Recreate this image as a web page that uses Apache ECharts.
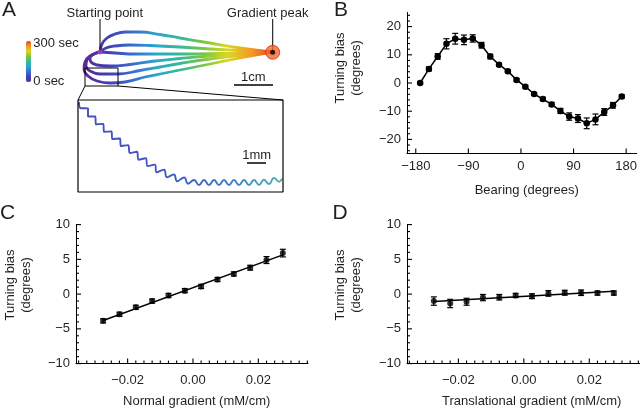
<!DOCTYPE html>
<html><head><meta charset="utf-8">
<script src="https://cdn.jsdelivr.net/npm/echarts@6/dist/echarts.min.js"></script>
<style>html,body{margin:0;padding:0;background:#fff}#c{width:640px;height:408px}</style>
</head><body><div id="c"></div>
<script>
// ---------- Panel B : turning bias vs bearing ----------
const bearing = [-172.5,-157.5,-142.5,-127.5,-112.5,-97.5,-82.5,-67.5,-52.5,-37.5,-22.5,-7.5,7.5,22.5,37.5,52.5,67.5,82.5,97.5,112.5,127.5,142.5,157.5,172.5];
const turnB = [0,5.0,9.4,13.9,15.7,15.3,15.8,13.4,9.4,6.5,4.2,1.1,-1.3,-3.9,-5.7,-7.6,-9.9,-11.9,-12.6,-14.3,-12.9,-10.3,-7.9,-4.8];
const errB = [0.4,0.7,1.0,1.8,1.9,1.7,1.3,1.0,0.8,0.6,0.5,0.5,0.5,0.5,0.6,0.7,0.9,1.3,1.4,1.9,1.9,1.2,1.0,0.6];
const bearingTicks = [-180,-90,0,90,180];
const turnTicksB = [-20,-10,0,10,20];
const turnMinorB = [-24,-22,-18,-16,-14,-12,-8,-6,-4,-2,2,4,6,8,12,14,16,18,22,24];

// ---------- Panel C : normal gradient ----------
const gradC = [-0.0275,-0.0225,-0.0175,-0.0125,-0.0075,-0.0025,0.0025,0.0075,0.0125,0.0175,0.0225,0.0275];
const turnC = [-3.85,-2.9,-1.9,-1.0,-0.2,0.5,1.1,2.1,2.9,3.8,4.9,5.9];
const errC = [0.3,0.3,0.3,0.3,0.3,0.3,0.3,0.3,0.3,0.35,0.5,0.55];
const fitC = [[-0.0275,-3.8],[0.0275,5.65]];

// ---------- Panel D : translational gradient ----------
const gradD = [-0.0275,-0.0225,-0.0175,-0.0125,-0.0075,-0.0025,0.0025,0.0075,0.0125,0.0175,0.0225,0.0275];
const turnD = [-1.0,-1.35,-1.1,-0.5,-0.45,-0.2,-0.3,0.1,0.2,0.2,0.15,0.15];
const errD = [0.6,0.6,0.5,0.45,0.4,0.3,0.35,0.4,0.35,0.4,0.3,0.3];
const fitD = [[-0.0275,-1.05],[0.0275,0.4]];

const gradTicks = [-0.02,0,0.02];
const gradMinor = [-0.035,-0.0325,-0.03,-0.0275,-0.025,-0.0225,-0.0175,-0.015,-0.0125,-0.01,-0.0075,-0.005,-0.0025,0.0025,0.005,0.0075,0.01,0.0125,0.015,0.0175,0.0225,0.025,0.0275,0.03,0.0325,0.035];
const turnTicksCD = [-10,-5,0,5,10];
const turnMinorCD = [-9,-8,-7,-6,-4,-3,-2,-1,1,2,3,4,6,7,8,9];

// ---------- Panel A : trajectories (panel units) ----------
const traj1 = [[100,52],[102,44],[107,38],[115,34],[125,32],[140,32],[160,34.5],[180,38],[210,43],[240,48],[272,52]];
const traj2 = [[100,52],[106,48],[115,46],[130,45],[150,45.5],[180,47],[210,49],[240,50.5],[272,52]];
const traj3 = [[100,52],[115,53],[135,54],[160,54],[190,54],[220,53.5],[250,53],[272,52]];
const traj4 = [[100,52],[94,54],[90,58],[91,62],[97,65],[110,66],[130,64.5],[155,61],[180,58.5],[210,56],[245,54],[272,52]];
const traj5 = [[100,52],[92,55],[87,60],[86,66],[90,71],[100,74],[118,74],[140,70.5],[160,67],[180,63.5],[210,59],[245,55],[272,52]];
const traj6 = [[100,52],[90,56],[85,62],[84,69],[88,76],[97,81],[110,83],[125,82],[145,77],[165,73],[180,70],[210,64],[240,58],[272,52]];
const wiggle = [[79,102],[80.8,108.2],[88.0,108.3],[88.0,116.5],[95.4,116.5],[95.8,124.3],[103.4,124.0],[103.9,131.8],[111.6,131.5],[112.2,139.0],[120.1,138.5],[120.7,146.0],[128.1,145.1],[129.9,153.0],[136.9,151.8],[138.6,159.7],[145.7,158.3],[147.6,166.1],[154.8,164.6],[156.7,172.3],[163.9,169.8],[167.0,177.2],[173.8,174.5],[177.2,181.2],[184.1,177.5],[188.1,183.7],[194,180],[199,185],[204,180],[209,185],[214,180],[219,185],[224,180],[229,185],[234,180],[239,185],[244,180],[249,185],[254,180],[259,184.8],[264,179.8],[269,184],[274,178],[279,181.7],[282,178.5]];
const startPoint = [[100,52]];
const peakPoint = [[272.7,52.3]];
const leaderStart = [[100,19],[100,52]];
const leaderPeak = [[272.7,19],[272.7,52]];
const zoomBox = [[85,68],[118,68],[118,86],[85,86],[85,68]];
const connectLeft = [[85,86],[78,100]];
const connectRight = [[118,86],[283,100]];
const insetBox = [[78,100],[283,100],[283,192],[78,192],[78,100]];
const scaleCm = [[234,85],[273,85]];
const scaleMm = [[247,163],[266,163]];
const timeColors = ['#5a2a96','#4040b8','#3a6ccc','#2aa6cc','#35b89a','#7cc644','#d8d822','#f49a22','#e83a1e'];

const FONT = "'Liberation Sans', Arial, Helvetica, sans-serif";
const INK = '#231f20';
const minus = v => v < 0 ? '\u2212' + Math.abs(v) : String(v);
const minus2 = v => (v < 0 ? '\u2212' : '') + Math.abs(v).toFixed(2);

function zip(xs, ys){ return xs.map((x,i)=>[x, ys[i]]); }
function errData(xs, ys, es){ return xs.map((x,i)=>[x, ys[i]-es[i], ys[i]+es[i]]); }
function errRender(params, api){
  const x = api.value(0), lo = api.value(1), hi = api.value(2);
  const p1 = api.coord([x, hi]), p2 = api.coord([x, lo]);
  const w = 3, st = {stroke:'#000', lineWidth:1.2};
  return {type:'group', children:[
    {type:'line', shape:{x1:p1[0],y1:p1[1],x2:p2[0],y2:p2[1]}, style:st},
    {type:'line', shape:{x1:p1[0]-w,y1:p1[1],x2:p1[0]+w,y2:p1[1]}, style:st},
    {type:'line', shape:{x1:p2[0]-w,y1:p2[1],x2:p2[0]+w,y2:p2[1]}, style:st}
  ]};
}

const chart = echarts.init(document.getElementById('c'), null, {renderer:'canvas'});
const lblStyle = {color: INK, fontFamily: FONT, fontSize: 13};
const axLine = {show:true, onZero:false, lineStyle:{color:'#000', width:1}};

function mainX(grid, min, max, ticks, fmt, margin){
  return {type:'value', gridIndex:grid, min:min, max:max, position:'bottom',
    axisLine:axLine, splitLine:{show:false}, axisTick:{show:false},
    axisLabel:Object.assign({customValues:ticks, formatter:fmt, margin:margin}, lblStyle)};
}
function mainY(grid, min, max, ticks){
  return {type:'value', gridIndex:grid, min:min, max:max, position:'left', axisLine:axLine, splitLine:{show:false},
    axisTick:{show:false},
    axisLabel:Object.assign({customValues:ticks, formatter:minus, margin:6}, lblStyle)};
}
// inward tick marks: thin rect symbols placed on the axis through the scales
function ticksSeries(grid, values, fixed, horizontal, len){
  return {type:'scatter', xAxisIndex:grid, yAxisIndex:grid, clip:false, silent:true, z:6,
    data: values.map(v => horizontal ? [v, fixed] : [fixed, v]),
    symbol:'rect',
    symbolSize: horizontal ? [1.1, len] : [len, 1.1],
    symbolOffset: horizontal ? [0, -len/2] : [len/2, 0],
    itemStyle:{color:'#000', opacity:1},
    emphasis:{disabled:true}};
}

const tracks = [traj1,traj2,traj3,traj4,traj5,traj6];
const series = [];
tracks.forEach(t => series.push({type:'line', xAxisIndex:0, yAxisIndex:0, data:t, smooth:0.45,
  showSymbol:false, lineStyle:{width:2.8}, silent:true, z:3}));
function blackLine(d, w){ return {type:'line', xAxisIndex:0, yAxisIndex:0, data:d, showSymbol:false,
  lineStyle:{color:'#000', width:w}, itemStyle:{color:'#000'}, silent:true, z:4}; }
series.push(blackLine(leaderStart,1));
series.push(blackLine(leaderPeak,1));
series.push(blackLine(zoomBox,1));
series.push(blackLine(connectLeft,1));
series.push(blackLine(connectRight,1));
series.push(blackLine(insetBox,1.2));
series.push(blackLine(scaleCm,1.5));
series.push(blackLine(scaleMm,1.5));
series.push({type:'line', xAxisIndex:0, yAxisIndex:0, data:wiggle, smooth:0.5, showSymbol:false, silent:true,
  lineStyle:{width:1.9, color:new echarts.graphic.LinearGradient(0,0,1,0,[
    {offset:0,color:'#4a4cc0'},{offset:0.55,color:'#3d5ec6'},{offset:0.8,color:'#3f8cc2'},{offset:1,color:'#4cb4b0'}])}});
series.push({type:'scatter', xAxisIndex:0, yAxisIndex:0, data:peakPoint, symbolSize:14, silent:true, z:5,
  itemStyle:{color:'#f4682a', borderColor:'#e02a1a', borderWidth:1}});
series.push({type:'scatter', xAxisIndex:0, yAxisIndex:0, data:peakPoint, symbolSize:5, silent:true, z:6,
  itemStyle:{color:'#000'}});
series.push({type:'scatter', xAxisIndex:0, yAxisIndex:0, data:startPoint, symbolSize:5, silent:true, z:6,
  itemStyle:{color:'#b040c0', opacity:0.8}});

// Panel B
series.push({type:'line', xAxisIndex:1, yAxisIndex:1, data:zip(bearing,turnB), symbol:'circle', symbolSize:6.5,
  lineStyle:{color:'#000', width:1.5}, itemStyle:{color:'#000'}, silent:true, z:5});
series.push({type:'custom', xAxisIndex:1, yAxisIndex:1, data:errData(bearing,turnB,errB), renderItem:errRender,
  encode:{x:0, y:[1,2]}, silent:true, z:4});
series.push(ticksSeries(1, bearingTicks, -25, true, 5));
series.push(ticksSeries(1, turnTicksB, -195, false, 5));
series.push(ticksSeries(1, turnMinorB, -195, false, 3));
// Panel C
series.push({type:'line', xAxisIndex:2, yAxisIndex:2, data:fitC, showSymbol:false,
  lineStyle:{color:'#000', width:1.5}, silent:true, z:3});
series.push({type:'scatter', xAxisIndex:2, yAxisIndex:2, data:zip(gradC,turnC), symbol:'circle', symbolSize:6,
  itemStyle:{color:'#000'}, silent:true, z:5});
series.push({type:'custom', xAxisIndex:2, yAxisIndex:2, data:errData(gradC,turnC,errC), renderItem:errRender,
  encode:{x:0, y:[1,2]}, silent:true, z:4});
series.push(ticksSeries(2, gradTicks, -10, true, 5));
series.push(ticksSeries(2, gradMinor, -10, true, 3));
series.push(ticksSeries(2, turnTicksCD, -0.0358, false, 5));
series.push(ticksSeries(2, turnMinorCD, -0.0358, false, 3));
// Panel D
series.push({type:'line', xAxisIndex:3, yAxisIndex:3, data:fitD, showSymbol:false,
  lineStyle:{color:'#000', width:1.5}, silent:true, z:3});
series.push({type:'scatter', xAxisIndex:3, yAxisIndex:3, data:zip(gradD,turnD), symbol:'circle', symbolSize:6,
  itemStyle:{color:'#000'}, silent:true, z:5});
series.push({type:'custom', xAxisIndex:3, yAxisIndex:3, data:errData(gradD,turnD,errD), renderItem:errRender,
  encode:{x:0, y:[1,2]}, silent:true, z:4});
series.push(ticksSeries(3, gradTicks, -10, true, 5));
series.push(ticksSeries(3, gradMinor, -10, true, 3));
series.push(ticksSeries(3, turnTicksCD, -0.0357, false, 5));
series.push(ticksSeries(3, turnMinorCD, -0.0357, false, 3));

function txt(x, y, s, opts){
  return {type:'text', x:x, y:y, silent:true,
    style:Object.assign({text:s, fill:INK, font:'13px ' + FONT, textAlign:'center', textVerticalAlign:'middle'}, opts||{})};
}
function ytitle(x, y){
  return {type:'text', x:x, y:y, rotation:Math.PI/2, silent:true,
    style:{text:'Turning bias\n(degrees)', fill:INK, font:'13px ' + FONT, textAlign:'center', textVerticalAlign:'middle', lineHeight:16}};
}

const option = {
  animation:false,
  backgroundColor:'#fff',
  grid:[
    {left:0, top:0, width:320, height:200},
    {left:407, top:12.5, width:231, height:141},
    {left:76, top:224.6, width:232, height:139},
    {left:407, top:224.6, width:233, height:139}
  ],
  xAxis:[
    {type:'value', gridIndex:0, min:0, max:320, show:false},
    mainX(1, -195, 198, bearingTicks, minus, 6),
    mainX(2, -0.0358, 0.0352, gradTicks, minus2, 10),
    mainX(3, -0.0357, 0.0355, gradTicks, minus2, 10)
  ],
  yAxis:[
    {type:'value', gridIndex:0, min:0, max:200, inverse:true, show:false},
    mainY(1, -25, 25, turnTicksB),
    mainY(2, -10, 10, turnTicksCD),
    mainY(3, -10, 10, turnTicksCD)
  ],
  visualMap:[{type:'continuous', seriesIndex:[0,1,2,3,4,5], dimension:0, min:85, max:275,
    inRange:{color:timeColors}, orient:'vertical', left:26, top:41, itemWidth:5, itemHeight:41,
    padding:0, calculable:false, hoverLink:false, text:null}],
  graphic:[
    txt(2, 10, 'A', {font:'21px ' + FONT, textAlign:'left'}),
    txt(334, 10, 'B', {font:'21px ' + FONT, textAlign:'left'}),
    txt(0, 213.5, 'C', {font:'21px ' + FONT, textAlign:'left'}),
    txt(332.5, 213.5, 'D', {font:'21px ' + FONT, textAlign:'left'}),
    txt(104.8, 13.5, 'Starting point'),
    txt(267.7, 13.5, 'Gradient peak'),
    txt(33.3, 43.5, '300 sec', {textAlign:'left'}),
    txt(33.3, 81, '0 sec', {textAlign:'left'}),
    txt(253.3, 77.3, '1cm'),
    txt(256.7, 155, '1mm'),
    txt(526.7, 190, 'Bearing (degrees)'),
    txt(196.7, 401, 'Normal gradient (mM/cm)'),
    txt(531.7, 401, 'Translational gradient (mM/cm)'),
    ytitle(348.7, 68),
    ytitle(18.3, 285),
    ytitle(348.7, 285)
  ],
  series:series
};
chart.setOption(option);
</script>
</body></html>
